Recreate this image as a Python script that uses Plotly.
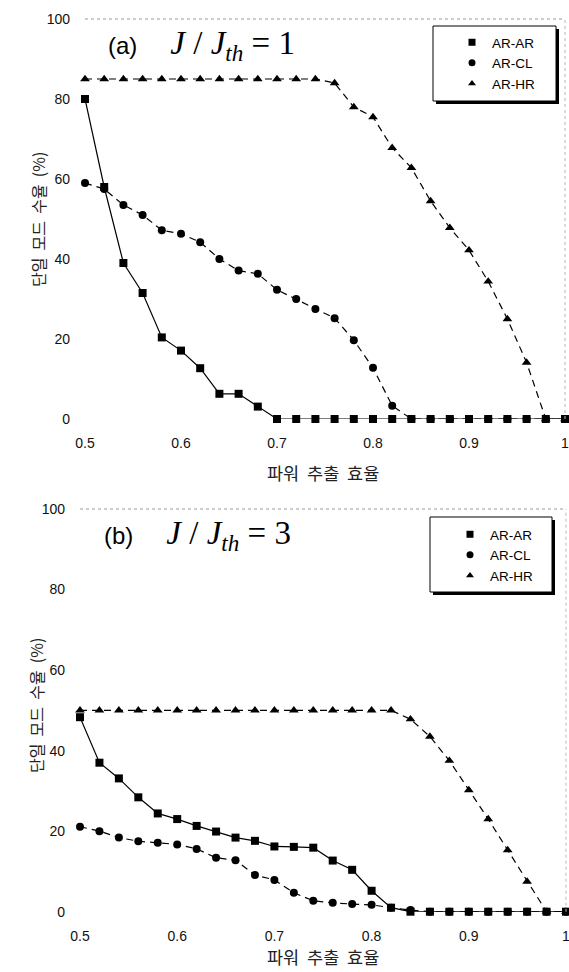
import plotly.graph_objects as go

W, H = 569, 972

# ---------------- data ----------------
x_eff = [0.50, 0.52, 0.54, 0.56, 0.58, 0.60, 0.62, 0.64, 0.66, 0.68,
         0.70, 0.72, 0.74, 0.76, 0.78, 0.80, 0.82, 0.84, 0.86, 0.88,
         0.90, 0.92, 0.94, 0.96, 0.98, 1.00]

# (a) J/Jth = 1
ar_ar_a = [80, 58, 39, 31.5, 20.4, 17.1, 12.7, 6.3, 6.3, 3.1,
           0, 0, 0, 0, 0, 0, 0, 0, 0, 0, 0, 0, 0, 0, 0, 0]
ar_cl_a = [59, 57.5, 53.5, 51, 47.2, 46.3, 44.2, 40, 37.1, 36.3,
           32.3, 30, 27.5, 25.2, 19.7, 12.8, 3.3,
           0, 0, 0, 0, 0, 0, 0, 0, 0]
ar_hr_a = [85, 85, 85, 85, 85, 85, 85, 85, 85, 85, 85, 85, 85,
           84, 78, 75.5, 67.8, 62.8, 54.5, 47.8, 42.2, 34.4, 25, 14.1, 0, 0]

# (b) J/Jth = 3
ar_ar_b = [48.3, 37, 33.1, 28.4, 24.4, 23, 21.3, 19.9, 18.4, 17.6,
           16.2, 16.1, 15.9, 12.7, 10.4, 5.2, 1.0,
           0, 0, 0, 0, 0, 0, 0, 0, 0]
ar_cl_b = [21.1, 20, 18.4, 17.5, 17.1, 16.7, 15.6, 13.4, 12.8, 9.1,
           7.9, 4.7, 2.7, 2.2, 1.9, 1.7, 1.0, 0.4,
           0, 0, 0, 0, 0, 0, 0, 0]
ar_hr_b = [50, 50, 50, 50, 50, 50, 50, 50, 50, 50, 50, 50, 50, 50, 50, 50, 50,
           47.8, 43.5, 37.5, 30.2, 23, 15.3, 7.5, 0, 0]

series_names = ["AR-AR", "AR-CL", "AR-HR"]
x_tick_vals = [0.5, 0.6, 0.7, 0.8, 0.9, 1.0]
x_tick_text = ["0.5", "0.6", "0.7", "0.8", "0.9", "1"]
y_tick_vals = [0, 20, 40, 60, 80, 100]
x_title = "파워 추출 효율"
y_title = "단일 모드 수율 (%)"

# ---------------- helpers ----------------
def px(p):
    return p / W

def py(p):
    return 1 - p / H

styles = {
    "AR-AR": dict(symbol="square", size=8, dash="solid"),
    "AR-CL": dict(symbol="circle", size=8, dash="7px,5px"),
    "AR-HR": dict(symbol="triangle-up", size=8.5, dash="7px,5px"),
}

fig = go.Figure()

panels = [
    ("x", "y", "legend", [ar_ar_a, ar_cl_a, ar_hr_a]),
    ("x2", "y2", "legend2", [ar_ar_b, ar_cl_b, ar_hr_b]),
]

for xa, ya, lg, sets in panels:
    for name, vals in zip(series_names, sets):
        st = styles[name]
        fig.add_trace(go.Scatter(
            x=x_eff, y=vals, xaxis=xa, yaxis=ya, mode="lines+markers",
            line=dict(color="black", width=1.2, dash=st["dash"]),
            marker=dict(symbol=st["symbol"], size=st["size"], color="black"),
            cliponaxis=False, showlegend=False, name=name))
    for name in series_names:
        st = styles[name]
        fig.add_trace(go.Scatter(
            x=[None], y=[None], xaxis=xa, yaxis=ya, mode="markers",
            marker=dict(symbol=st["symbol"], size=7, color="black"),
            name=name, legend=lg, showlegend=True))

tick_font = dict(family="Liberation Sans, Arial", size=14, color="#111")

common_x = dict(range=[0.5, 1.0], tickvals=x_tick_vals, ticktext=x_tick_text,
                showgrid=False, zeroline=False, showline=False, ticks="",
                tickfont=tick_font, ticklabelstandoff=14, automargin=False,
                ticklabeloverflow="allow")
common_y = dict(range=[0, 100], tickvals=y_tick_vals,
                showgrid=False, zeroline=False, showline=False, ticks="",
                tickfont=tick_font, ticklabelstandoff=14, automargin=False)

leg_font = dict(family="Liberation Sans, Arial", size=13.5, color="black")
fig.update_layout(
    width=W, height=H,
    margin=dict(l=0, r=0, t=0, b=0),
    paper_bgcolor="white", plot_bgcolor="white",
    xaxis=dict(domain=[px(85), px(565)], anchor="y", **common_x),
    yaxis=dict(domain=[py(419), py(19)], anchor="x", **common_y),
    xaxis2=dict(domain=[px(80), px(566)], anchor="y2", **common_x),
    yaxis2=dict(domain=[py(911.7), py(509)], anchor="x2", **common_y),
    legend=dict(x=px(452), y=py(27), xanchor="left", yanchor="top",
                bgcolor="rgba(0,0,0,0)", borderwidth=0, font=leg_font,
                itemwidth=30, tracegroupgap=0),
    legend2=dict(x=px(450), y=py(519), xanchor="left", yanchor="top",
                 bgcolor="rgba(0,0,0,0)", borderwidth=0, font=leg_font,
                 itemwidth=30, tracegroupgap=0),
)

shapes = []
# faint dotted frame (top and right)
for xa, ya in [("x", "y"), ("x2", "y2")]:
    shapes.append(dict(type="line", xref=f"{xa} domain", yref=f"{ya} domain",
                       x0=0, x1=1, y0=1, y1=1,
                       line=dict(color="#9a9a9a", width=1, dash="dot")))
    shapes.append(dict(type="line", xref=f"{xa} domain", yref=f"{ya} domain",
                       x0=1, x1=1, y0=0, y1=1,
                       line=dict(color="#b8b8b8", width=1, dash="dot")))

# legend boxes with drop shadow
for (l, t, r, b) in [(433, 26, 556, 101), (430, 517, 552, 592)]:
    shapes.append(dict(type="rect", xref="paper", yref="paper",
                       x0=px(l + 3), x1=px(r + 3), y0=py(b + 3), y1=py(t + 3),
                       fillcolor="black", line=dict(width=0), layer="above"))
    shapes.append(dict(type="rect", xref="paper", yref="paper",
                       x0=px(l), x1=px(r), y0=py(b), y1=py(t),
                       fillcolor="white", line=dict(color="black", width=1),
                       layer="above"))
fig.update_layout(shapes=shapes)

annotations = []
xt_font = dict(family="Noto Sans CJK KR", size=17.5, color="#222")
yt_font = dict(family="Noto Sans CJK KR", size=16, color="#222")
# axis titles
for yy in (472, 956):
    annotations.append(dict(text=x_title.replace(" ", "&nbsp;&nbsp;"),
                            xref="paper", yref="paper",
                            x=px(323), y=py(yy), xanchor="center", yanchor="middle",
                            showarrow=False, font=xt_font))
for xx, yy in ((38, 220), (36, 706)):
    annotations.append(dict(text=y_title.replace(" ", "&nbsp;&nbsp;"),
                            xref="paper", yref="paper",
                            x=px(xx), y=py(yy), xanchor="center", yanchor="middle",
                            showarrow=False, textangle=-90, font=yt_font))

# panel titles
def panel_title(tag, val):
    return (f"<span style='font-family:Liberation Sans, Arial;font-size:24px;font-style:normal'>({tag})</span>"
            f"&nbsp;&nbsp;&nbsp;&nbsp;<i>J</i>&nbsp;/&nbsp;<i>J</i><sub><i>th</i></sub>&nbsp;=&nbsp;{val}")

title_font = dict(family="Liberation Serif, Times New Roman", size=33, color="black")
annotations.append(dict(text=panel_title("a", 1), xref="paper", yref="paper",
                        x=px(106), y=py(46), xanchor="left", yanchor="middle",
                        showarrow=False, font=title_font))
annotations.append(dict(text=panel_title("b", 3), xref="paper", yref="paper",
                        x=px(102), y=py(535), xanchor="left", yanchor="middle",
                        showarrow=False, font=title_font))
fig.update_layout(annotations=annotations)

fig.write_html(
    "out.html",
    config={"displayModeBar": False},
    post_script="document.body.style.margin='0';document.body.style.overflow='hidden';",
)
